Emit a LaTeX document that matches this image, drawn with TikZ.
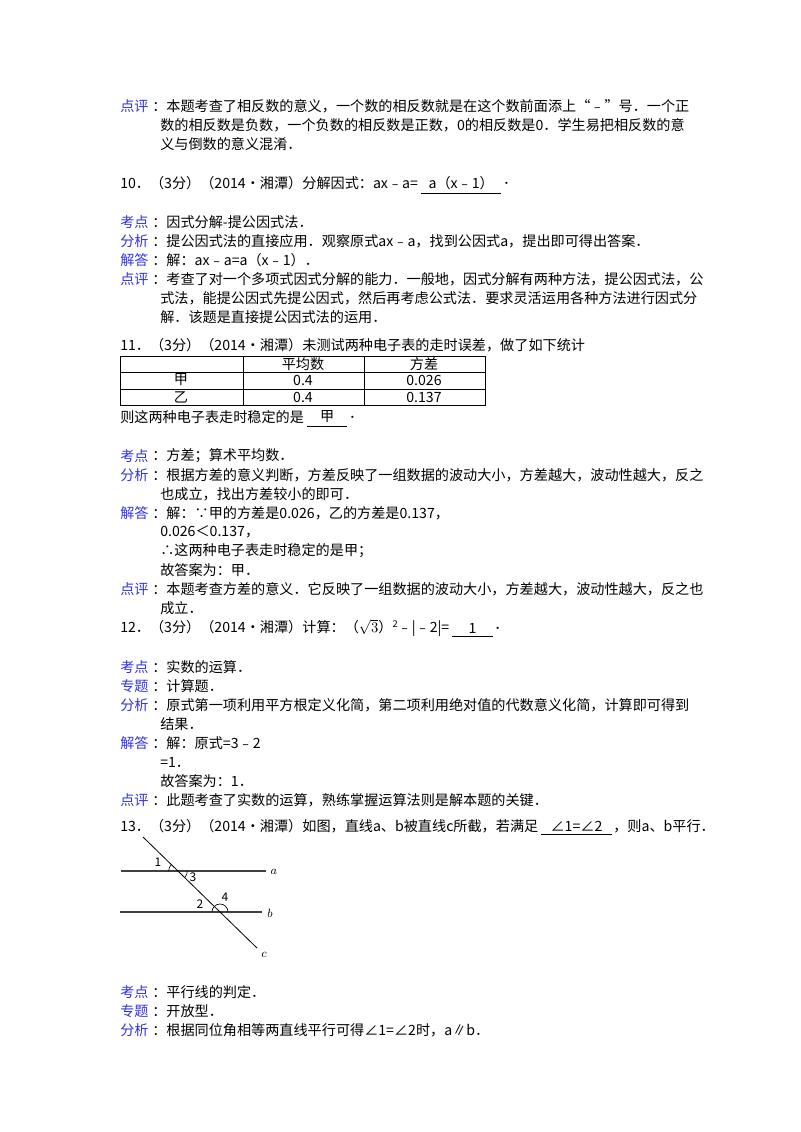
\documentclass[tikz,border=0pt]{standalone}
\usepackage{fontspec}
\setmainfont{Noto Sans CJK SC}
\definecolor{lbl}{RGB}{50,50,230}
\newcounter{tl}
\newcommand\tl[3]{\stepcounter{tl}\node[txt,name=t\thetl] at (#1,#2) {#3};}
\newcommand\lb[3]{\stepcounter{tl}\node[txt,text=lbl,name=t\thetl] at (#1,#2) {#3};}
% blank continuing after last node: #1 width in px, #2 text
\newcommand\blk[2]{\edef\prevn{t\thetl}\stepcounter{tl}%
  \node[txt,minimum width=#1*0.75pt,name=t\thetl] at ([xshift=2pt]\prevn.east) {#2};%
  \draw[ul] ([yshift=-2.5pt]t\thetl.south west) -- ([yshift=-2.5pt]t\thetl.south east);}
\newcommand\nx[1]{\edef\prevn{t\thetl}\stepcounter{tl}%
  \node[txt,name=t\thetl] at ([xshift=1pt]\prevn.east) {#1};}
\begin{document}
\begin{tikzpicture}[x=0.75pt,y=-0.75pt,
  txt/.style={anchor=west,inner sep=0pt,font=\fontsize{10.6}{12}\selectfont},
  ul/.style={line width=0.6pt},
  fig/.style={line width=0.8pt,draw=black!75}]
\useasboundingbox (0,0) rectangle (800,1132);
\fill[white] (0,0) rectangle (800,1132);
% block 1
\lb{120}{106}{点评}\tl{152}{106}{：本题考查了相反数的意义，一个数的相反数就是在这个数前面添上“﹣”号．一个正}
\tl{160}{125}{数的相反数是负数，一个负数的相反数是正数，0的相反数是0．学生易把相反数的意}
\tl{160}{144}{义与倒数的意义混淆．}
% 10
\tl{120}{183}{10．（3分）（2014•湘潭）分解因式：ax﹣a=}
\blk{80}{a（x﹣1）}\nx{．}
\lb{120}{222}{考点}\tl{152}{222}{：因式分解-提公因式法．}
\lb{120}{241}{分析}\tl{152}{241}{：提公因式法的直接应用．观察原式ax﹣a，找到公因式a，提出即可得出答案．}
\lb{120}{260}{解答}\tl{152}{260}{：解：ax﹣a=a（x﹣1）．}
\lb{120}{279}{点评}\tl{152}{279}{：考查了对一个多项式因式分解的能力．一般地，因式分解有两种方法，提公因式法，公}
\tl{160}{298}{式法，能提公因式先提公因式，然后再考虑公式法．要求灵活运用各种方法进行因式分}
\tl{160}{317}{解．该题是直接提公因式法的运用．}
% 11
\tl{120}{345}{11．（3分）（2014•湘潭）未测试两种电子表的走时误差，做了如下统计}
\draw[line width=0.6pt] (120,356) rectangle (485,405);
\draw[line width=0.5pt] (120,372) -- (485,372) (120,389) -- (485,389)
  (243,356) -- (243,405) (364,356) -- (364,405);
\node[txt,anchor=center,name=c1] at (303,364) {平均数};
\node[txt,anchor=center,name=c2] at (424,364) {方差};
\node[txt,anchor=center,name=c3] at (181,380) {甲};
\node[txt,anchor=center,name=c4] at (303,380) {0.4};
\node[txt,anchor=center,name=c5] at (424,380) {0.026};
\node[txt,anchor=center,name=c6] at (181,397) {乙};
\node[txt,anchor=center,name=c7] at (303,397) {0.4};
\node[txt,anchor=center,name=c8] at (424,397) {0.137};
\tl{120}{417}{则这两种电子表走时稳定的是}
\blk{40}{甲}\nx{．}
\lb{120}{456}{考点}\tl{152}{456}{：方差；算术平均数．}
\lb{120}{475}{分析}\tl{152}{475}{：根据方差的意义判断，方差反映了一组数据的波动大小，方差越大，波动性越大，反之}
\tl{160}{494}{也成立，找出方差较小的即可．}
\lb{120}{513}{解答}\tl{152}{513}{：解：∵甲的方差是0.026，乙的方差是0.137，}
\tl{160}{532}{0.026＜0.137，}
\tl{160}{551}{∴这两种电子表走时稳定的是甲；}
\tl{160}{570}{故答案为：甲．}
\lb{120}{589}{点评}\tl{152}{589}{：本题考查方差的意义．它反映了一组数据的波动大小，方差越大，波动性越大，反之也}
\tl{160}{608}{成立．}
% 12
\tl{120}{628}{12．（3分）（2014•湘潭）计算：（$\sqrt{3}$）\raisebox{4pt}{\scriptsize 2}﹣|﹣2|=}
\blk{40}{1}\nx{．}
\lb{120}{667}{考点}\tl{152}{667}{：实数的运算．}
\lb{120}{686}{专题}\tl{152}{686}{：计算题．}
\lb{120}{705}{分析}\tl{152}{705}{：原式第一项利用平方根定义化简，第二项利用绝对值的代数意义化简，计算即可得到}
\tl{160}{724}{结果．}
\lb{120}{743}{解答}\tl{152}{743}{：解：原式=3﹣2}
\tl{160}{762}{=1．}
\tl{160}{781}{故答案为：1．}
\lb{120}{800}{点评}\tl{152}{800}{：此题考查了实数的运算，熟练掌握运算法则是解本题的关键．}
% 13
\tl{120}{826}{13．（3分）（2014•湘潭）如图，直线a、b被直线c所截，若满足}
\blk{70}{∠1=∠2}\nx{，则a、b平行．}
% figure
\coordinate (a1) at (121,871); \coordinate (a2) at (266,871);
\coordinate (b1) at (120,912); \coordinate (b2) at (262,912);
\coordinate (c1) at (143,837); \coordinate (c2) at (257,948);
\coordinate (A) at (178,871); \coordinate (B) at (220,912);
\draw[fig] (a1) -- (a2); \draw[fig] (b1) -- (b2);
\draw[line width=0.6pt] (c1) -- (c2);
\node[font=\itshape\small,name=la] at (274,872) {$a$};
\node[font=\itshape\small,name=lb] at (270,913) {$b$};
\node[font=\itshape\small,name=lc] at (264,955) {$c$};
\node[font=\small,name=n1] at (158,862) {1};
\node[font=\small,name=n3] at (193,877) {3};
\node[font=\small,name=n2] at (200,904) {2};
\node[font=\small,name=n4] at (225,897) {4};
\draw[line width=0.5pt] ([xshift=-7pt]A) arc[start angle=180,end angle=136,radius=7pt];
\draw[line width=0.5pt] (A) ++(-44:7pt) arc[start angle=-44,end angle=0,radius=7pt];
\draw[line width=0.5pt] ([xshift=-6pt]B) arc[start angle=180,end angle=136,radius=6pt];
\draw[line width=0.5pt] (B) ++(136:6pt) arc[start angle=136,end angle=0,radius=6pt];
% block 13 analysis
\lb{120}{992}{考点}\tl{152}{992}{：平行线的判定．}
\lb{120}{1011}{专题}\tl{152}{1011}{：开放型．}
\lb{120}{1030}{分析}\tl{152}{1030}{：根据同位角相等两直线平行可得∠1=∠2时，a∥b．}
\end{tikzpicture}
\end{document}
